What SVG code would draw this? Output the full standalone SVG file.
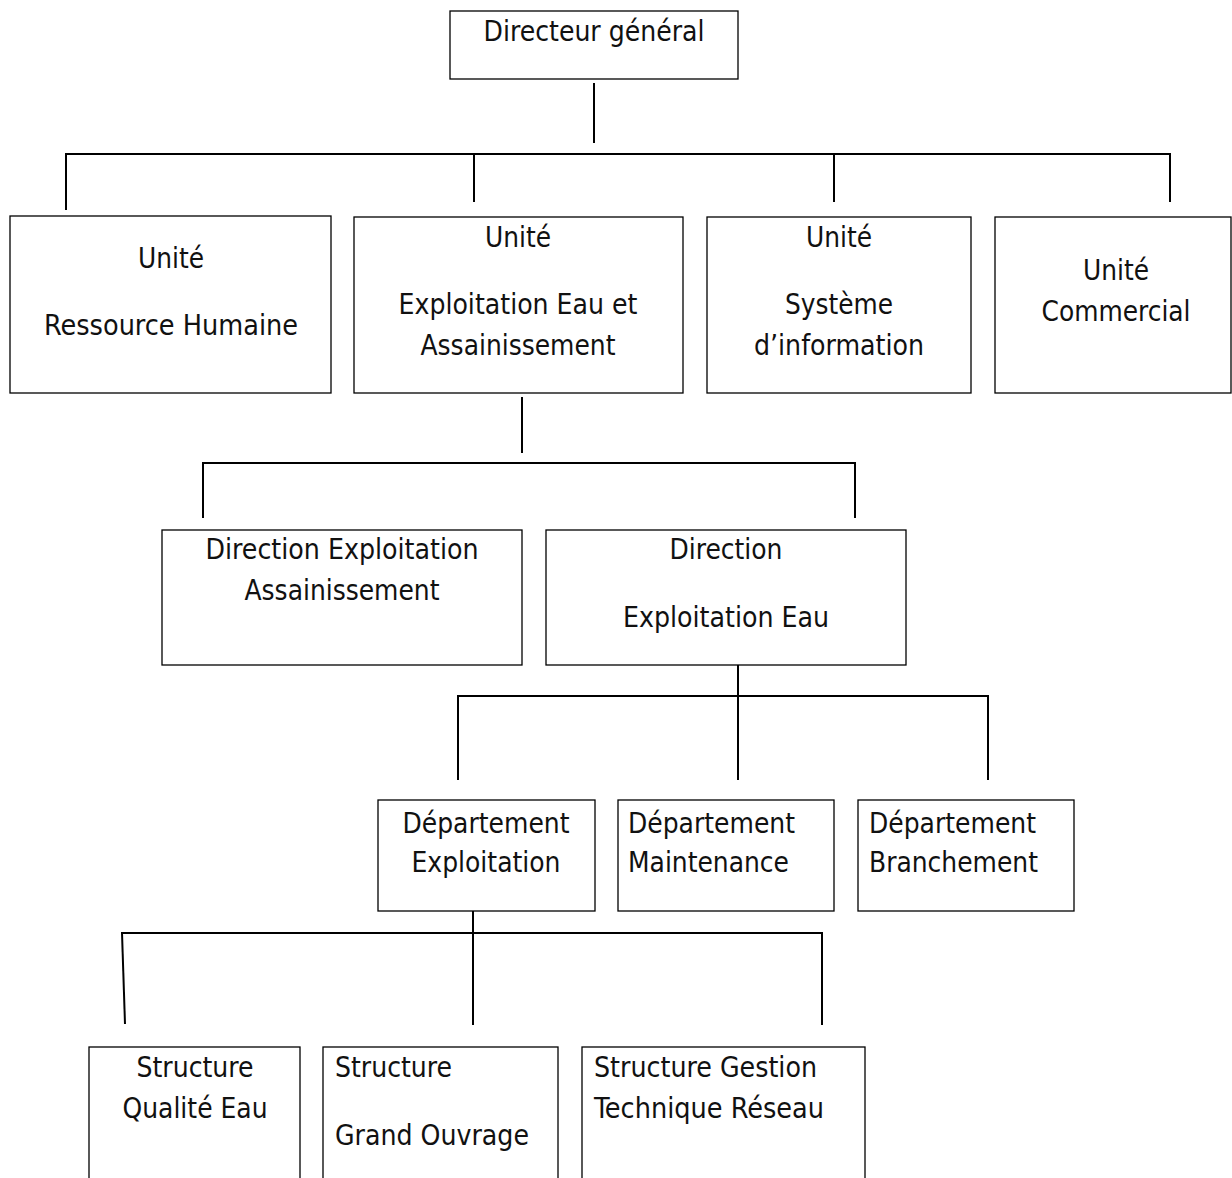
<svg xmlns="http://www.w3.org/2000/svg" width="1232" height="1178" viewBox="0 0 1232 1178">
<style>
.box{fill:#fff;stroke:#000;stroke-width:1.3}
.t{font-family:"DejaVu Sans Condensed","DejaVu Sans",Verdana,sans-serif;font-size:28px;fill:#111}
.c{text-anchor:middle}
.ln{stroke:#000;stroke-width:2;fill:none}
</style>
<rect width="1232" height="1178" fill="#fff"/>
<g id="connectors">
<line class="ln" x1="594" y1="83" x2="594" y2="143"/>
<line class="ln" x1="65" y1="154" x2="1171" y2="154"/>
<line class="ln" x1="66" y1="154" x2="66" y2="210"/>
<line class="ln" x1="474" y1="154" x2="474" y2="202"/>
<line class="ln" x1="834" y1="154" x2="834" y2="202"/>
<line class="ln" x1="1170" y1="154" x2="1170" y2="202"/>
<line class="ln" x1="522" y1="397" x2="522" y2="453"/>
<line class="ln" x1="202" y1="463" x2="856" y2="463"/>
<line class="ln" x1="203" y1="463" x2="203" y2="518"/>
<line class="ln" x1="855" y1="463" x2="855" y2="518"/>
<line class="ln" x1="738" y1="665" x2="738" y2="780"/>
<line class="ln" x1="457" y1="696" x2="989" y2="696"/>
<line class="ln" x1="458" y1="696" x2="458" y2="780"/>
<line class="ln" x1="988" y1="696" x2="988" y2="780"/>
<line class="ln" x1="473" y1="911" x2="473" y2="1025"/>
<line class="ln" x1="121" y1="933" x2="823" y2="933"/>
<line class="ln" x1="122" y1="933" x2="125" y2="1024"/>
<line class="ln" x1="822" y1="933" x2="822" y2="1025"/>
</g>
<g id="n-dg">
<rect class="box" x="450" y="11" width="288" height="68"/>
<text class="t c" x="594" y="41" textLength="221" lengthAdjust="spacingAndGlyphs">Directeur général</text>
</g>
<g id="n-rh">
<rect class="box" x="10" y="216" width="321" height="177"/>
<text class="t c" x="171" y="268" textLength="66" lengthAdjust="spacingAndGlyphs">Unité</text>
<text class="t c" x="171" y="335" textLength="254" lengthAdjust="spacingAndGlyphs">Ressource Humaine</text>
</g>
<g id="n-eea">
<rect class="box" x="354" y="217" width="329" height="176"/>
<text class="t c" x="518" y="247" textLength="66" lengthAdjust="spacingAndGlyphs">Unité</text>
<text class="t c" x="518" y="314" textLength="239" lengthAdjust="spacingAndGlyphs">Exploitation Eau et</text>
<text class="t c" x="518" y="355" textLength="195" lengthAdjust="spacingAndGlyphs">Assainissement</text>
</g>
<g id="n-si">
<rect class="box" x="707" y="217" width="264" height="176"/>
<text class="t c" x="839" y="247" textLength="66" lengthAdjust="spacingAndGlyphs">Unité</text>
<text class="t c" x="839" y="314" textLength="108" lengthAdjust="spacingAndGlyphs">Système</text>
<text class="t c" x="839" y="355" textLength="170" lengthAdjust="spacingAndGlyphs">d’information</text>
</g>
<g id="n-com">
<rect class="box" x="995" y="217" width="236" height="176"/>
<text class="t c" x="1116" y="280" textLength="66" lengthAdjust="spacingAndGlyphs">Unité</text>
<text class="t c" x="1116" y="321" textLength="149" lengthAdjust="spacingAndGlyphs">Commercial</text>
</g>
<g id="n-dea">
<rect class="box" x="162" y="530" width="360" height="135"/>
<text class="t c" x="342" y="559" textLength="273" lengthAdjust="spacingAndGlyphs">Direction Exploitation</text>
<text class="t c" x="342" y="600" textLength="195" lengthAdjust="spacingAndGlyphs">Assainissement</text>
</g>
<g id="n-dee">
<rect class="box" x="546" y="530" width="360" height="135"/>
<text class="t c" x="726" y="559" textLength="113" lengthAdjust="spacingAndGlyphs">Direction</text>
<text class="t c" x="726" y="627" textLength="206" lengthAdjust="spacingAndGlyphs">Exploitation Eau</text>
</g>
<g id="n-dexp">
<rect class="box" x="378" y="800" width="217" height="111"/>
<text class="t c" x="486" y="833" textLength="167" lengthAdjust="spacingAndGlyphs">Département</text>
<text class="t c" x="486" y="872" textLength="149" lengthAdjust="spacingAndGlyphs">Exploitation</text>
</g>
<g id="n-dmai">
<rect class="box" x="618" y="800" width="216" height="111"/>
<text class="t" x="628" y="833" textLength="167" lengthAdjust="spacingAndGlyphs">Département</text>
<text class="t" x="628" y="872" textLength="161" lengthAdjust="spacingAndGlyphs">Maintenance</text>
</g>
<g id="n-dbra">
<rect class="box" x="858" y="800" width="216" height="111"/>
<text class="t" x="869" y="833" textLength="167" lengthAdjust="spacingAndGlyphs">Département</text>
<text class="t" x="869" y="872" textLength="169" lengthAdjust="spacingAndGlyphs">Branchement</text>
</g>
<g id="n-sqe">
<rect class="box" x="89" y="1047" width="211" height="160"/>
<text class="t c" x="195" y="1077" textLength="117" lengthAdjust="spacingAndGlyphs">Structure</text>
<text class="t c" x="195" y="1118" textLength="145" lengthAdjust="spacingAndGlyphs">Qualité Eau</text>
</g>
<g id="n-sgo">
<rect class="box" x="323" y="1047" width="235" height="160"/>
<text class="t" x="335" y="1077" textLength="117" lengthAdjust="spacingAndGlyphs">Structure</text>
<text class="t" x="335" y="1145" textLength="194" lengthAdjust="spacingAndGlyphs">Grand Ouvrage</text>
</g>
<g id="n-sgtr">
<rect class="box" x="582" y="1047" width="283" height="160"/>
<text class="t" x="594" y="1077" textLength="223" lengthAdjust="spacingAndGlyphs">Structure Gestion</text>
<text class="t" x="594" y="1118" textLength="230" lengthAdjust="spacingAndGlyphs">Technique Réseau</text>
</g>
</svg>
